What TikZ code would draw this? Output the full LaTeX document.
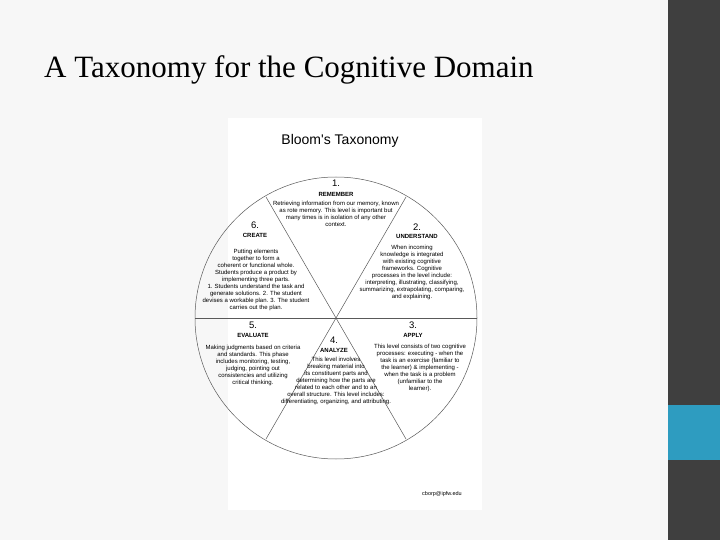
\documentclass[tikz,border=0pt]{standalone}
\usepackage{fontspec}
\setmainfont{Liberation Serif}
\newfontfamily\arial{Liberation Sans}
\definecolor{teal1}{HTML}{2E9CC0}
\definecolor{bar}{HTML}{3F3F3F}
\begin{document}
\begin{tikzpicture}[x=1pt,y=-1pt,
  body/.style={font=\arial\fontsize{6}{7}\selectfont,align=center,inner sep=0pt},
  num/.style={font=\arial\fontsize{9.5}{10}\selectfont,inner sep=0pt},
  head/.style={font=\arial\bfseries\fontsize{6}{7}\selectfont,inner sep=0pt},
  seg/.style={draw=black!65,line width=0.5pt}]
\useasboundingbox (0,0) rectangle (720,540);
\fill[black!3] (0,0) rectangle (720,540);
\fill[bar] (668,0) rectangle (720,540);
\fill[teal1] (668,405) rectangle (720,460);
\fill[white] (228,118) rectangle (482,510);
\node[anchor=west,font=\fontsize{31}{34}\selectfont,inner sep=0pt] (title) at (44,70) {A Taxonomy for the Cognitive Domain};
\node[font=\arial\fontsize{14}{16}\selectfont,inner sep=0pt] (bt) at (340,141) {Bloom's Taxonomy};
\coordinate (c) at (336,318);
\draw[seg] (c) circle [radius=141];
\coordinate (l) at (195,318); \coordinate (r) at (477,318);
\coordinate (tl) at (266,197); \coordinate (br) at (406,439);
\coordinate (tr) at (406,197); \coordinate (bl) at (266,439);
\draw[seg] (l) -- (r); \draw[seg] (tl) -- (br); \draw[seg] (tr) -- (bl);
% 1
\node[num] (n1) at (336,183) {1.};
\node[head] (h1) at (336,194) {REMEMBER};
\node[body] (t1) at (336,214) {Retrieving information from our memory, known\\as rote memory.  This level is important but\\many times is in isolation of any other\\context.};
% 2
\node[num] (n2) at (417,227) {2.};
\node[head] (h2) at (417,236) {UNDERSTAND};
\node[body] (t2) at (412,272) {When incoming\\knowledge is integrated\\with existing cognitive\\frameworks.  Cognitive\\processes in the level include:\\interpreting, illustrating, classifying,\\summarizing, extrapolating, comparing,\\and explaining.};
% 6
\node[num] (n6) at (255,225) {6.};
\node[head] (h6) at (255,235) {CREATE};
\node[body] (t6) at (256,280) {Putting elements\\together to form a\\coherent or functional whole.\\Students produce a product by\\implementing three parts.\\1. Students understand the task and\\generate solutions.  2. The student\\devises a workable plan.  3. The student\\carries out the plan.};
% 5
\node[num] (n5) at (253,325) {5.};
\node[head] (h5) at (253,335) {EVALUATE};
\node[body] (t5) at (253,365) {Making judgments based on criteria\\and standards.  This phase\\includes monitoring, testing,\\judging, pointing out\\consistencies and utilizing\\critical thinking.};
% 3
\node[num] (n3) at (413,325) {3.};
\node[head] (h3) at (413,335) {APPLY};
\node[body] (t3) at (420,368) {This level consists of two cognitive\\processes:  executing - when the\\task is an exercise (familiar to\\the learner) \& implementing -\\when the task is a problem\\(unfamiliar to the\\learner).};
% 4
\node[num] (n4) at (334,340) {4.};
\node[head] (h4) at (334,350) {ANALYZE};
\node[body] (t4) at (336,381) {This level involves\\breaking material into\\its constituent parts and\\determining how the parts are\\related to each other and to an\\overall structure.  This level includes:\\differentiating, organizing, and attributing.};
\node[font=\arial\fontsize{5.5}{6}\selectfont,inner sep=0pt] (em) at (442,494) {cborp@ipfw.edu};
\end{tikzpicture}
\end{document}
